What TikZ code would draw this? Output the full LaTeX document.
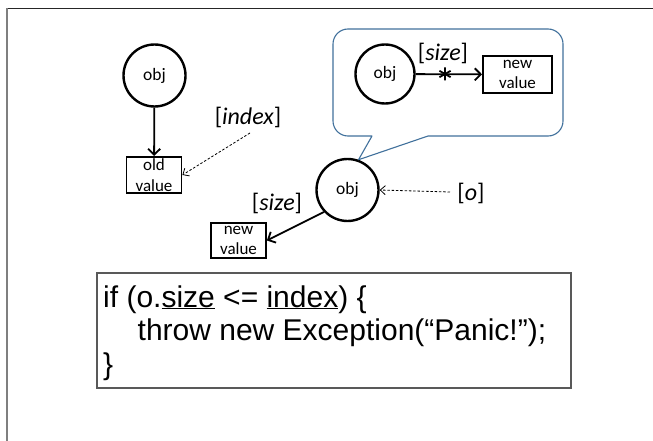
\documentclass[tikz,border=0pt]{standalone}
\usepackage{fontspec}
\setmainfont{Carlito}
\newfontfamily\codefont{Liberation Sans}
\usetikzlibrary{arrows.meta}
\definecolor{calloutblue}{HTML}{41719C}
\definecolor{framegray}{HTML}{7F7F7F}
\definecolor{codegray}{HTML}{595959}
\tikzset{
  objnode/.style={circle, draw, line width=2.4pt, minimum size=#1, inner sep=0pt, font=\fontsize{17.5}{19}\selectfont},
  valbox/.style={rectangle, draw, line width=1.8pt, minimum width=#1, minimum height=36pt, inner sep=0pt, align=center, font=\fontsize{17}{20.5}\selectfont},
  idxlabel/.style={inner sep=0pt, font=\fontsize{24}{28}\selectfont},
  refarrow/.style={line width=1.8pt, -{Straight Barb[length=6pt,width=12pt,line width=1.8pt]}},
  hintarrow/.style={line width=0.8pt, dash pattern=on 2.5pt off 1.8pt, -{Straight Barb[length=5pt,width=9pt,line width=0.8pt]}},
  codeline/.style={anchor=base west, inner sep=0pt, font=\codefont\fontsize{30}{34}\selectfont},
}
\begin{document}
\begin{tikzpicture}[x=1pt,y=1pt]
  \useasboundingbox (0,0) rectangle (653,-441);
  \fill[white] (0,0) rectangle (653,-441);
  % page frame
  \draw[line width=1.5pt, black!85] (6,-8.5) -- (653,-8.5);
  \draw[line width=2pt, framegray] (7,-8.5) -- (7,-441);

  % object with its old value
  \node[objnode=62pt] (obj1) at (154.5,-75.5) {obj};
  \node[valbox=55pt] (oldv) at (154,-175) {old\\value};
  \draw[refarrow] (obj1) -- (oldv);
  \node[idxlabel] (idx) at (248,-117) {[\textit{index}]};
  \coordinate (idxfrom) at (250,-133);
  \draw[hintarrow] (idxfrom) -- (oldv.east);

  % object being written
  \node[objnode=62pt] (obj2) at (347.5,-190) {obj};
  \node[valbox=55pt, minimum height=35pt] (newv2) at (238.5,-240.5) {new\\value};
  \draw[refarrow] (obj2.223) -- (newv2.east);
  \node[idxlabel] (size2) at (277,-203) {[\textit{size}]};
  \node[idxlabel] (olab) at (471,-193) {[\textit{o}]};
  \coordinate (ofrom) at (450,-192);
  \draw[hintarrow] (ofrom) -- (obj2.east);

  % callout with the forbidden write
  \draw[calloutblue, line width=1.1pt, line join=round]
    (372,-136) [rounded corners=15pt] -- (333,-136) -- (333,-29) -- (563,-29) -- (563,-136) [sharp corners] -- (428,-136) -- (obj2.70) -- cycle;
  \node[objnode=59pt] (obj3) at (385,-74) {obj};
  \node[valbox=69pt, minimum height=37pt] (newv3) at (517.5,-74.5) {new\\value};
  \draw[refarrow] (obj3) -- (newv3);
  \coordinate (star) at (445,-74);
  \draw[line width=1.8pt] ([yshift=6.5pt]star) -- ([yshift=-6.5pt]star)
    ([shift={(-5.6pt,3.2pt)}]star) -- ([shift={(5.6pt,-3.2pt)}]star)
    ([shift={(-5.6pt,-3.2pt)}]star) -- ([shift={(5.6pt,3.2pt)}]star);
  \node[idxlabel] (size3) at (443,-53) {[\textit{size}]};

  % guarding code
  \node[draw=codegray, line width=1.2pt, rectangle, minimum width=474pt, minimum height=115pt, inner sep=0pt] (code) at (334,-330.5) {};
  \node[codeline] (l1) at (103,-307) {if (o.\underline{size} <= \underline{index}) \{};
  \node[codeline] (l2) at (137.5,-340) {throw new Exception(“Panic!”);};
  \node[codeline] (l3) at (103,-374) {\}};
\end{tikzpicture}
\end{document}
